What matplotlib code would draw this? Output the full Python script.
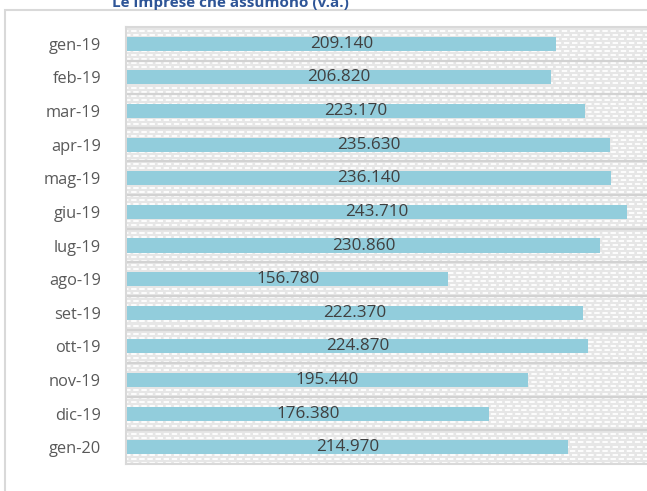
import matplotlib
matplotlib.use('Agg')
import matplotlib.pyplot as plt
from matplotlib.patches import Rectangle
import numpy as np

# dati
mesi = ['gen-19', 'feb-19', 'mar-19', 'apr-19', 'mag-19', 'giu-19', 'lug-19',
        'ago-19', 'set-19', 'ott-19', 'nov-19', 'dic-19', 'gen-20']
imprese = [209140, 206820, 223170, 235630, 236140, 243710, 230860,
           156780, 222370, 224870, 195440, 176380, 214970]
etichette = ['209.140', '206.820', '223.170', '235.630', '236.140', '243.710',
             '230.860', '156.780', '222.370', '224.870', '195.440', '176.380',
             '214.970']
titolo = 'Le imprese che assumono (v.a.)'

plt.rcParams['font.family'] = ['Open Sans', 'DejaVu Sans']

W, H = 647, 491
fig = plt.figure(figsize=(W / 100, H / 100), dpi=100)

# cornice esterna del grafico
fig.patches.append(Rectangle((5 / W, -0.1), 1.2, 1.1 - 10 / H,
                             transform=fig.transFigure, fill=False,
                             edgecolor='#d9d9d9', linewidth=1.5))

ax = fig.add_axes([126 / W, 27 / H, 534 / W, 437 / H])
n = len(mesi)
y = np.arange(n)

# sfondo a trama
ax.set_facecolor('#e6e6e6')
xmax = 260000
for k, yy in enumerate(np.arange(-0.5, n - 0.5, 0.12)):
    off = 0 if k % 2 == 0 else 3000
    ax.hlines(yy, -5000 + off, xmax, colors='white', linewidth=1.3,
              linestyles=(0, (3, 1.5)), zorder=1)
for b in np.arange(0.5, n - 0.5, 1):
    ax.axhline(b, color='#d2d2d2', linewidth=1.6, zorder=1)

ax.barh(y, imprese, height=0.42, color='#92cddc', zorder=3)
for yi, v, t in zip(y, imprese, etichette):
    ax.text(v / 2, yi, t, ha='center', va='center', fontsize=12.3,
            color='#404040', zorder=4)

ax.set_xlim(-500, xmax)
ax.set_ylim(n - 0.5, -0.5)
ax.set_yticks(y)
ax.set_yticklabels(mesi, fontsize=11.8, color='#595959')
ax.tick_params(axis='y', length=0, pad=18)
ax.set_xticks([])
for s in ax.spines.values():
    s.set_color('#d9d9d9')
    s.set_linewidth(1.5)

fig.text(230 / W, 1 - 7 / H, titolo, ha='center', va='baseline',
         fontsize=11, fontweight='bold', color='#2e5597')

fig.savefig('out.png', dpi=100)
plt.close()
